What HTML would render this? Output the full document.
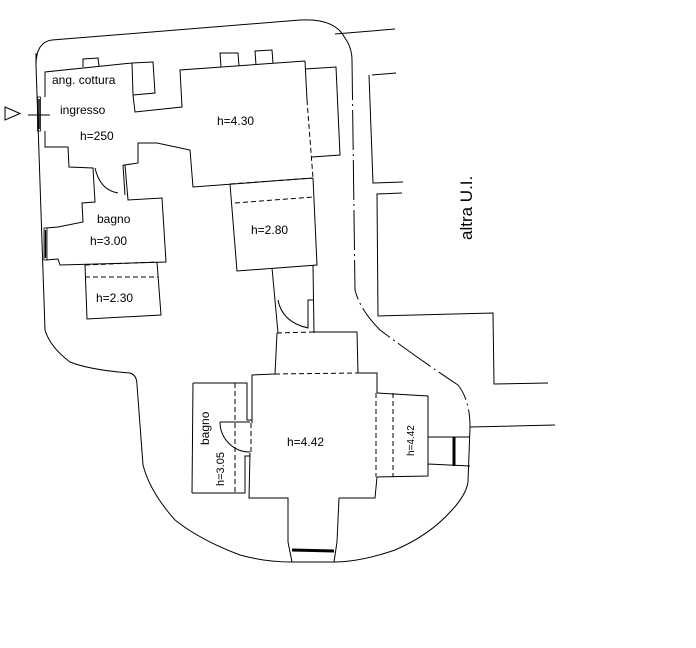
<!DOCTYPE html>
<html><head><meta charset="utf-8"><style>
html,body{margin:0;padding:0;background:#fff;width:696px;height:648px;overflow:hidden}
svg{display:block}
text{font-family:"Liberation Sans",sans-serif;fill:#000}
</style></head><body>
<svg width="696" height="648" viewBox="0 0 696 648" xmlns="http://www.w3.org/2000/svg">
<g fill="none" stroke="#000" stroke-width="1">
<path d="M36,53 L36,65 Q36,42 52,40 L300,20 Q335,18 345,38 Q352,48 352,60"/>
<path d="M36,65 L45,330 Q50,347 70,362 Q90,370 130,373 Q137,375 137,385 L143,465 Q150,492 175,520 Q200,540 240,555 Q265,562 292,562 L334,562"/>
<path d="M334,562 Q360,562 395,550 Q430,535 452,510 Q466,495 468,482 L470,427"/>
<path d="M352,60 L355,290 Q360,310 380,330 Q420,360 458,385 Q470,400 470,427" stroke-dasharray="40,4,2,4"/>
<path d="M335,34 L395,29"/>
<path d="M372,75 L396,73 M369,75 L373,183 L403,182 M402,193 L377,194 L378,316 L493,313 L494,384 L548,383 M470,427 L555,425"/>
<path d="M45,97 L45,72 L132,63 L133,95 L135,112 L182,107 L180,70 L305,61"/>
<path d="M132,63 L153,62 L155,93 L133,95"/>
<path d="M83,67 L83,59 L98,58 L99,66 M221,67 L220,53 L238,53 L239,66 M256,65 L255,51 L272,50 L273,63"/>
<path d="M305,61 L307,100"/><path d="M307,100 L313,178" stroke-dasharray="5,3"/>
<path d="M305,69 L336,67 L340,155 L312,157"/>
<path d="M313,178 L193,187 L190,150 L157,143 L138,143 L138,163 L125,165 L128,200 L162,198 L166,262 L60,265 L58,259 L46,260"/>
<path d="M45,131 L45,147 L68,147 L69,167 L93,168 L95,202 L82,203 L83,222 L58,227 L46,228"/>
<path d="M95,168 Q100,190 118,193 M123,165 L125,195 M123,165 L126,165"/>
<path d="M85,265 L87,319 L161,315 L157,262"/>
<path d="M85,277 L158,277" stroke-dasharray="5,3"/>
<path d="M85,265 L157,262" stroke-dasharray="5,3"/>
<path d="M230,184 L237,271 L317,265 L313,178"/>
<path d="M230,184 L313,178 M235,203 L313,197" stroke-dasharray="5,3"/>
<path d="M272,268 L278,333 M313,265 L314,333 M278,300 Q282,322 308,328 L308,300 L313,300"/>
<path d="M277,333 L275,374 M313,332 L357,332 L358,373 L377,373 L377,393"/>
<path d="M277,333 L313,332 M275,374 L358,373" stroke-dasharray="5,3"/>
<path d="M275,374 L252,375 L252,423 M250,453 L249,498 L288,498 L288,542 L292,562 M339,498 L337,542 L334,562 M377,477 L375,498 L339,498"/>
<path d="M376,393 L376,477 M251,423 L251,453" stroke-dasharray="5,3"/>
<path d="M193,383 L247,383 L247,420 L252,420 M192,493 L245,493 L245,456 L250,456 M193,383 L192,493"/>
<path d="M235,383 L235,493" stroke-dasharray="5,3"/>
<path d="M220,422 L250,422 M220,422 A30,30 0 0 0 250,452"/>
<path d="M377,393 L428,396 L428,476 L377,477 M428,437 L470,437 M428,464 L470,466"/>
<path d="M393,393 L393,477" stroke-dasharray="5,3"/>
</g>
<g stroke="#000" fill="none">
<rect x="37.5" y="97" width="3" height="34" stroke-width="0.8"/>
<line x1="39" y1="99" x2="39" y2="129" stroke-width="1.5"/>
<rect x="44" y="228" width="3" height="32" stroke-width="0.8"/>
<line x1="45.5" y1="230" x2="45.5" y2="258" stroke-width="1.5"/>
<line x1="454" y1="437" x2="454" y2="466" stroke-width="3"/>
<line x1="292" y1="550" x2="334" y2="551" stroke-width="3"/>
<line x1="28" y1="115" x2="50" y2="115"/>
<path d="M5,107 L20,113.5 L5,120 Z"/>
</g>
<g font-size="12">
<text x="52" y="84">ang. cottura</text>
<text x="60" y="114">ingresso</text>
<text x="80" y="140">h=250</text>
<text x="217" y="125">h=4.30</text>
<text x="97" y="223">bagno</text>
<text x="90" y="245">h=3.00</text>
<text x="96" y="302">h=2.30</text>
<text x="251" y="234">h=2.80</text>
<text x="287" y="446">h=4.42</text>
<text transform="translate(209,445) rotate(-90)">bagno</text>
<text font-size="11" transform="translate(224,486) rotate(-90)">h=3.05</text>
<text font-size="10" transform="translate(414,456) rotate(-90)">h=4.42</text>
<text font-size="17" transform="translate(472,240) rotate(-90)">altra U.I.</text>
</g>
</svg>
</body></html>
